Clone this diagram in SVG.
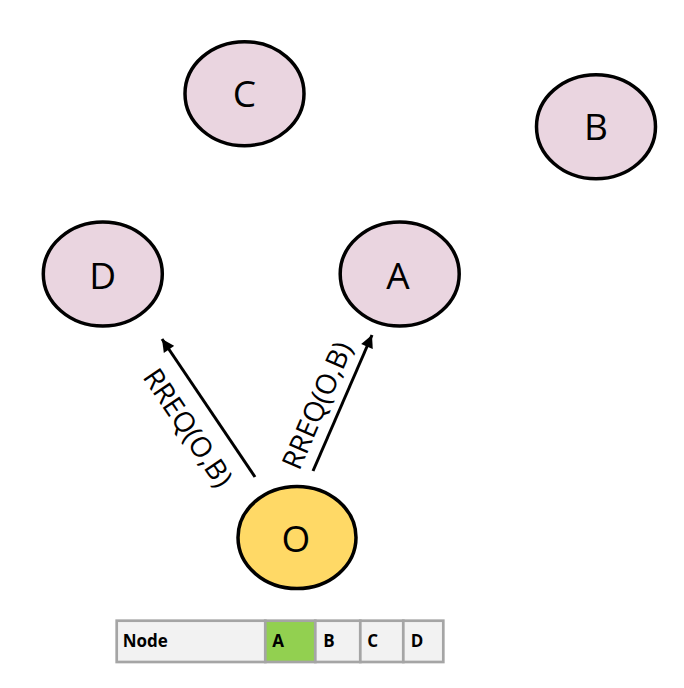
<svg xmlns="http://www.w3.org/2000/svg" width="684" height="688" viewBox="0 0 684 688">
<style>
.node ellipse{stroke:#000;stroke-width:3.5}
.pink{fill:#ead5e0}
.lbl{font-family:"Open Sans","DejaVu Sans",sans-serif;font-size:37px;fill:#000;text-anchor:middle}
.edge{stroke:#000;stroke-width:3;fill:none}
.elbl{font-family:"Open Sans","DejaVu Sans",sans-serif;font-size:28px;fill:#000;text-anchor:middle;dominant-baseline:central}
.cell{fill:#f2f2f2;stroke:#a5a5a5;stroke-width:2.7}
.ct{font-family:"Open Sans","DejaVu Sans",sans-serif;font-size:17px;font-weight:bold;fill:#000}
</style>
<defs>
<marker id="ah" viewBox="0 0 10 10" refX="10" refY="5" markerWidth="4.5" markerHeight="4.2" orient="auto" markerUnits="strokeWidth">
<path d="M0,0 L10,5 L0,10 z" fill="#000"/>
</marker>
</defs>
<rect width="684" height="688" fill="#fff"/>
<g id="edges">
<line class="edge" x1="255" y1="477" x2="162" y2="339" marker-end="url(#ah)"/>
<line class="edge" x1="313" y1="471" x2="372" y2="335" marker-end="url(#ah)"/>
<text class="elbl" transform="translate(189,427) rotate(56)">RREQ(O,B)</text>
<text class="elbl" transform="translate(316,405) rotate(-66.7)">RREQ(O,B)</text>
</g>
<g id="node-C" class="node"><ellipse class="pink" cx="244.5" cy="93.7" rx="59.5" ry="52"/><text class="lbl" x="244.5" y="107">C</text></g>
<g id="node-B" class="node"><ellipse class="pink" cx="596" cy="126.7" rx="59.5" ry="52"/><text class="lbl" x="596" y="140">B</text></g>
<g id="node-D" class="node"><ellipse class="pink" cx="102.8" cy="274" rx="59.5" ry="52"/><text class="lbl" x="102.8" y="288.5">D</text></g>
<g id="node-A" class="node"><ellipse class="pink" cx="399.7" cy="274" rx="59.5" ry="52"/><text class="lbl" x="398" y="288.5">A</text></g>
<g id="node-O" class="node"><ellipse fill="#ffd966" cx="297" cy="537.5" rx="59" ry="51"/><text class="lbl" x="296" y="552">O</text></g>
<g id="table">
<rect class="cell" x="116.7" y="620.7" width="148.6" height="41.3"/>
<rect class="cell" x="265.3" y="620.7" width="50" height="41.3" style="fill:#92d050"/>
<rect class="cell" x="315.3" y="620.7" width="45" height="41.3"/>
<rect class="cell" x="360.3" y="620.7" width="43" height="41.3"/>
<rect class="cell" x="403.3" y="620.7" width="40" height="41.3"/>
<text class="ct" x="122.7" y="647.3">Node</text>
<text class="ct" x="272.3" y="647.3">A</text>
<text class="ct" x="323.3" y="647.3">B</text>
<text class="ct" x="367.3" y="647.3">C</text>
<text class="ct" x="410.7" y="647.3">D</text>
</g>
</svg>
